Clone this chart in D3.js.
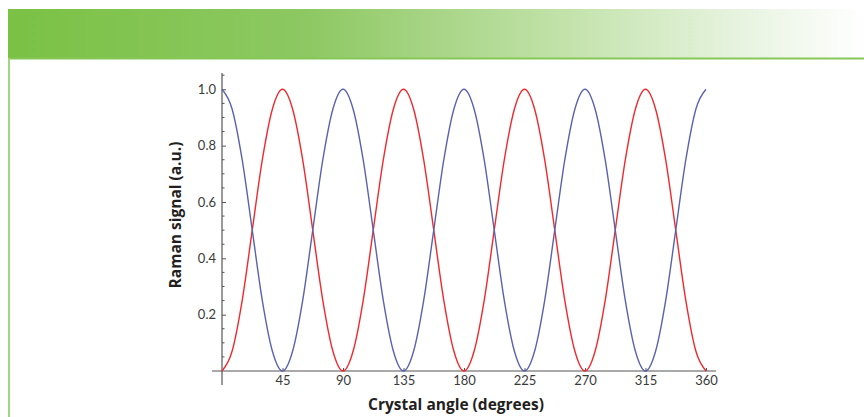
<!DOCTYPE html>
<html>
<head>
<meta charset="utf-8">
<script src="https://cdn.jsdelivr.net/npm/d3@7"></script>
<style>
  body { margin: 0; background: #fff; }
  svg { display: block; }
  .tick text { font-family: Lato, "Open Sans", sans-serif; font-size: 13px; fill: #3a3a3a; }
  .title { font-family: "Open Sans", Lato, sans-serif; font-size: 15.5px; font-weight: bold; fill: #231f20; }
</style>
</head>
<body>
<svg class="plot"></svg>
<script>
// canvas size
const dimen = { width: 864, height: 417 }

// crystal angle (degrees), sampled every 7.5
const angles = [
  0, 7.5, 15, 22.5, 30, 37.5, 45, 52.5, 60, 67.5, 75, 82.5,
  90, 97.5, 105, 112.5, 120, 127.5, 135, 142.5, 150, 157.5, 165, 172.5,
  180, 187.5, 195, 202.5, 210, 217.5, 225, 232.5, 240, 247.5, 255, 262.5,
  270, 277.5, 285, 292.5, 300, 307.5, 315, 322.5, 330, 337.5, 345, 352.5,
  360
]
// blue curve
const blueSignal = [
  1.00, 0.93, 0.75, 0.50, 0.25, 0.07, 0.00, 0.07, 0.25, 0.50, 0.75, 0.93,
  1.00, 0.93, 0.75, 0.50, 0.25, 0.07, 0.00, 0.07, 0.25, 0.50, 0.75, 0.93,
  1.00, 0.93, 0.75, 0.50, 0.25, 0.07, 0.00, 0.07, 0.25, 0.50, 0.75, 0.93,
  1.00, 0.93, 0.75, 0.50, 0.25, 0.07, 0.00, 0.07, 0.25, 0.50, 0.75, 0.93,
  1.00
]
// red curve
const redSignal = [
  0.00, 0.07, 0.25, 0.50, 0.75, 0.93, 1.00, 0.93, 0.75, 0.50, 0.25, 0.07,
  0.00, 0.07, 0.25, 0.50, 0.75, 0.93, 1.00, 0.93, 0.75, 0.50, 0.25, 0.07,
  0.00, 0.07, 0.25, 0.50, 0.75, 0.93, 1.00, 0.93, 0.75, 0.50, 0.25, 0.07,
  0.00, 0.07, 0.25, 0.50, 0.75, 0.93, 1.00, 0.93, 0.75, 0.50, 0.25, 0.07,
  0.00
]
const xTicks = [45, 90, 135, 180, 225, 270, 315, 360]
const yTicks = [0.2, 0.4, 0.6, 0.8, 1.0]
const yMinorTicks = [0.05, 0.1, 0.15, 0.25, 0.3, 0.35, 0.45, 0.5, 0.55,
  0.65, 0.7, 0.75, 0.85, 0.9, 0.95, 1.05]

const xScale = d3.scaleLinear()
  .domain([0, 360])
  .range([222, 706])
const yScale = d3.scaleLinear()
  .domain([0, 1])
  .range([371, 89.3])

const svg = d3.select('.plot')
    .attr('width', dimen.width)
    .attr('height', dimen.height)

// Header band
// ===========
const grad = svg.append('defs').append('linearGradient')
    .attr('id', 'head')
    .attr('x1', '0%').attr('x2', '100%')
grad.selectAll('stop')
    .data([['0%', '#7bc145'], ['35%', '#8dc862'], ['65%', '#c2e2aa'], ['85%', '#e6f3de'], ['100%', '#ffffff']])
  .enter().append('stop')
    .attr('offset', d => d[0])
    .attr('stop-color', d => d[1])

svg.append('rect')
    .attr('x', 8).attr('y', 9)
    .attr('width', dimen.width - 8).attr('height', 49)
    .attr('fill', 'url(#head)')
svg.append('rect')
    .attr('x', 8).attr('y', 57.5)
    .attr('width', dimen.width - 8).attr('height', 2)
    .attr('fill', '#86c757')
svg.append('rect')
    .attr('x', 8).attr('y', 58)
    .attr('width', 2).attr('height', dimen.height - 58)
    .attr('fill', '#a2d57f')

// Draw Axis
// =========
const axisColor = '#555'
const xAxis = svg.append('g')
    .attr('transform', `translate(0, ${yScale(0)})`)
    .call(d3.axisBottom(xScale).tickValues(xTicks).tickSize(-3).tickPadding(5))
xAxis.select('.domain').remove()
xAxis.selectAll('.tick line').attr('stroke', axisColor)
xAxis.append('line')
    .attr('x1', xScale(-7.5)).attr('x2', xScale(367.5))
    .attr('stroke', axisColor).attr('stroke-width', 1.2)

const yAxis = svg.append('g')
    .attr('transform', `translate(${xScale(0)}, 0)`)
    .call(d3.axisLeft(yScale).tickValues(yTicks).tickFormat(d3.format('.1f')).tickSize(-4).tickPadding(6))
yAxis.select('.domain').remove()
yAxis.selectAll('.tick line').attr('stroke', axisColor)
yAxis.selectAll('.minor')
    .data(yMinorTicks)
  .enter().append('line')
    .attr('class', 'minor')
    .attr('x1', 0).attr('x2', 2.5)
    .attr('y1', d => yScale(d)).attr('y2', d => yScale(d))
    .attr('stroke', axisColor)
yAxis.append('line')
    .attr('y1', yScale(-0.05)).attr('y2', yScale(1.058))
    .attr('stroke', axisColor).attr('stroke-width', 1.2)

// Draw Curves
// ===========
const line = d3.line()
  .x((d, i) => xScale(angles[i]))
  .y(d => yScale(d))
  .curve(d3.curveMonotoneX)

svg.append('g')
    .attr('fill', 'none')
    .attr('stroke-width', 1.4)
  .selectAll('path')
    .data([{ v: redSignal, c: '#ee2a2e' }, { v: blueSignal, c: '#5a62ae' }])
  .enter().append('path')
    .attr('stroke', d => d.c)
    .attr('d', d => line(d.v))

// Titles
// ======
svg.append('text')
    .attr('class', 'title')
    .attr('x', 456).attr('y', 410)
    .attr('text-anchor', 'middle')
    .text('Crystal angle (degrees)')
svg.append('text')
    .attr('class', 'title')
    .attr('transform', `translate(181, 215) rotate(-90)`)
    .attr('text-anchor', 'middle')
    .text('Raman signal (a.u.)')
</script>
</body>
</html>
